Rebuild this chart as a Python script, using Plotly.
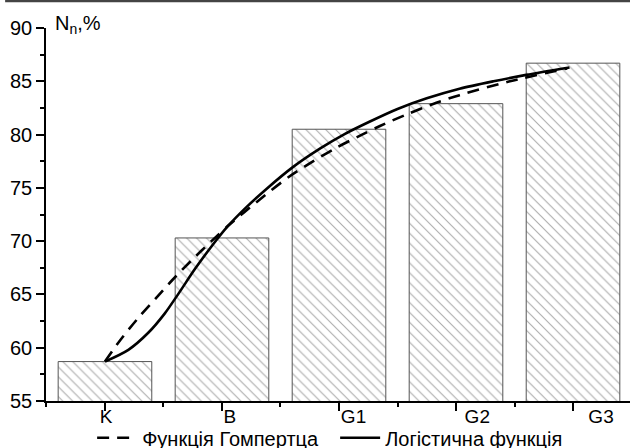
import plotly.graph_objects as go

categories = ["K", "B", "G1", "G2", "G3"]
bar_values = [58.7, 70.3, 80.5, 82.9, 86.7]

# curve points (x in category-index units)
logistic_x = [0, 0.2, 0.37, 0.51, 0.63, 0.77, 0.91, 1.05, 1.2, 1.38, 1.6, 1.84, 2.04, 2.26, 2.5, 2.75, 3.03, 3.32, 3.6, 3.97]
logistic_y = [58.7, 59.8, 61.4, 63.2, 65.1, 67.4, 69.5, 71.4, 73.1, 74.9, 76.9, 78.7, 80.0, 81.2, 82.4, 83.4, 84.3, 85.0, 85.6, 86.3]

gompertz_x = [0, 0.13, 0.285, 0.44, 0.58, 0.74, 0.91, 1.07, 1.3, 1.567, 1.75, 1.966, 2.18, 2.35, 2.58, 2.81, 3.03, 3.46, 3.95]
gompertz_y = [58.7, 60.7, 62.8, 64.7, 66.4, 68.2, 70.0, 71.6, 73.7, 76.0, 77.3, 78.7, 79.9, 80.8, 81.9, 82.9, 83.7, 85.0, 86.2]

legend_names = ["Функція Гомпертца", "Логістична функція"]
y_title = "N<sub>n</sub>,%"

idx = list(range(len(categories)))
FONT = "Liberation Sans, Arial, sans-serif"

fig = go.Figure()
fig.add_trace(go.Bar(
    x=idx, y=bar_values, width=0.8, base=0,
    marker=dict(color="white",
                line=dict(color="#555555", width=1),
                pattern=dict(shape="\\", size=7, solidity=0.16,
                             fgcolor="#5a5a5a", bgcolor="white")),
    showlegend=False, hoverinfo="skip",
))
fig.add_trace(go.Scatter(
    x=gompertz_x, y=gompertz_y, mode="lines", name=legend_names[0],
    line=dict(color="black", width=2.6, dash="12px,8px", shape="spline", smoothing=0.8),
))
fig.add_trace(go.Scatter(
    x=logistic_x, y=logistic_y, mode="lines", name=legend_names[1],
    line=dict(color="black", width=2.6, shape="spline", smoothing=0.8),
))
# carrier trace for the category label axis (invisible)
fig.add_trace(go.Scatter(
    x=idx, y=bar_values, xaxis="x2", mode="markers",
    marker=dict(opacity=0), showlegend=False, hoverinfo="skip",
))

fig.update_layout(
    width=630, height=448,
    margin=dict(l=46, r=0, t=28, b=47, autoexpand=False),
    paper_bgcolor="white", plot_bgcolor="white",
    font=dict(family=FONT, size=20, color="black"),
    showlegend=True,
    legend=dict(orientation="h", x=0.079, xanchor="left",
                yref="container", y=0.023, yanchor="middle",
                font=dict(size=20, family=FONT), itemwidth=40, entrywidth=188,
                bgcolor="rgba(0,0,0,0)", tracegroupgap=0),
    xaxis=dict(range=[-0.504, 4.487], showline=True, linecolor="black", linewidth=1.5,
               tickvals=idx, showticklabels=False, ticks="outside", ticklen=8, tickwidth=1.5,
               tickcolor="black", showgrid=False, zeroline=False, automargin=False,
               minor=dict(tick0=0.5, dtick=1, ticks="outside", ticklen=4, tickwidth=1.5,
                          tickcolor="black", showgrid=False)),
    xaxis2=dict(overlaying="x", anchor="y", side="bottom",
                range=[-0.485, 4.234], tickvals=idx, ticktext=categories,
                showline=False, ticks="", showgrid=False, zeroline=False, automargin=False,
                tickfont=dict(size=19, family=FONT), ticklabelstandoff=2),
    yaxis=dict(range=[55, 90], showline=True, linecolor="black", linewidth=1.5,
               dtick=5, tick0=55, ticks="outside", ticklen=8, tickwidth=1.5, tickcolor="black",
               showgrid=False, zeroline=False, automargin=False, tickfont=dict(size=20, family=FONT),
               minor=dict(dtick=2.5, ticks="outside", ticklen=4, tickwidth=1.5,
                          tickcolor="black", showgrid=False)),
    shapes=[dict(type="line", xref="paper", yref="paper", x0=-0.07, x1=1.0,
                 y0=1.0724, y1=1.0724, line=dict(color="#444444", width=2.5))],
    annotations=[dict(text=y_title, xref="paper", yref="paper", x=0.012, y=1.01,
                      xanchor="left", yanchor="middle", showarrow=False,
                      font=dict(size=20, family=FONT))],
)

fig.write_html("out.html")
